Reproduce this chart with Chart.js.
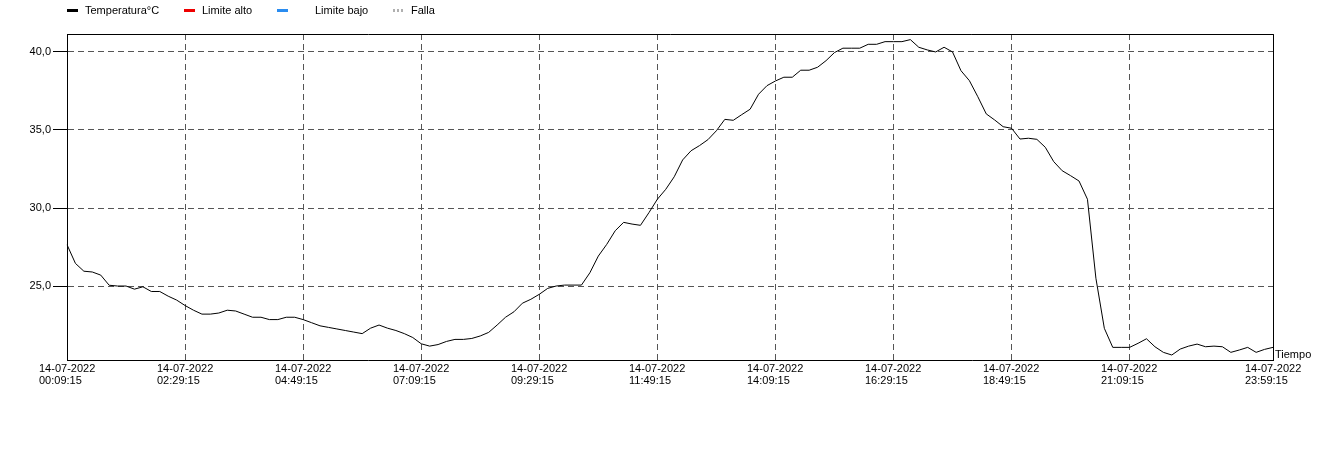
<!DOCTYPE html>
<html>
<head>
<meta charset="utf-8">
<script src="https://cdn.jsdelivr.net/npm/chart.js@4"></script>
<style>
html,body{margin:0;padding:0;background:#fff;}
canvas{display:block;}
</style>
</head>
<body>
<canvas id="c" width="1341" height="457"></canvas>
<script>
// ---- data ----
const fecha = '14-07-2022';
const startTime = '00:09:15';
const stepMinutes = 10;
const temperatura = [
  27.65, 26.45, 25.95, 25.90, 25.70, 25.05, 25.00, 25.00, 24.80, 24.95,
  24.65, 24.65, 24.35, 24.10, 23.75, 23.45, 23.20, 23.20, 23.27, 23.45,
  23.40, 23.20, 23.00, 23.00, 22.85, 22.85, 23.00, 23.00, 22.85, 22.65,
  22.45, 22.35, 22.25, 22.15, 22.05, 21.95, 22.30, 22.50, 22.30, 22.15,
  21.95, 21.70, 21.30, 21.15, 21.25, 21.45, 21.58, 21.58, 21.64, 21.80,
  22.03, 22.50, 23.00, 23.35, 23.90, 24.15, 24.47, 24.85, 25.00, 25.06,
  25.06, 25.06, 25.85, 26.92, 27.67, 28.54, 29.08, 28.97, 28.89, 29.70,
  30.56, 31.20, 32.00, 33.08, 33.67, 34.00, 34.38, 34.95, 35.68, 35.62,
  35.98, 36.33, 37.29, 37.84, 38.14, 38.38, 38.38, 38.83, 38.83, 39.02,
  39.44, 39.96, 40.24, 40.24, 40.24, 40.49, 40.49, 40.66, 40.66, 40.66,
  40.79, 40.30, 40.13, 40.00, 40.30, 40.00, 38.80, 38.16, 37.13, 36.03,
  35.64, 35.21, 35.11, 34.42, 34.47, 34.40, 33.89, 32.97, 32.39, 32.07,
  31.73, 30.56, 25.50, 22.29, 21.07, 21.07, 21.07, 21.33, 21.62, 21.11,
  20.75, 20.58, 20.96, 21.15, 21.28, 21.11, 21.15, 21.11, 20.75, 20.90,
  21.07, 20.75, 20.94, 21.07
];
const yTicks = [25, 30, 35, 40];
const xTickIndices = [0, 14, 28, 42, 56, 70, 84, 98, 112, 126, 143];
const seriesNames = ['Temperatura°C', 'Limite alto', 'Limite bajo', 'Falla'];
const limiteAlto = [];
const limiteBajo = [];
const falla = [];
const yMin = 20.26, yMax = 41.15;

// time categories (regular sampling every 10 minutes)
function pad(n){return String(n).padStart(2,'0');}
const [h0,m0,s0] = startTime.split(':').map(Number);
const tiempos = temperatura.map((_, i) => {
  const t = h0*60 + m0 + i*stepMinutes;
  return pad(Math.floor(t/60)) + ':' + pad(t%60) + ':' + pad(s0);
});

const FONT = '11px Arial, "Liberation Sans", sans-serif';

const framePlugin = {
  id: 'frame',
  afterDraw(chart) {
    const {ctx, chartArea: a} = chart;
    ctx.save();
    // top and right frame lines
    ctx.strokeStyle = '#000';
    ctx.lineWidth = 1;
    ctx.beginPath();
    const L = Math.round(a.left), T = Math.round(a.top) + 0.5, R = Math.round(a.right) + 0.5, B = Math.round(a.bottom);
    ctx.moveTo(L, T); ctx.lineTo(R, T); ctx.lineTo(R, B);
    ctx.stroke();
    // x tick labels (two lines, left aligned, block centred on tick)
    const xs = chart.scales.x;
    ctx.font = FONT;
    ctx.fillStyle = '#000';
    ctx.textAlign = 'left';
    ctx.textBaseline = 'alphabetic';
    xTickIndices.forEach(i => {
      const x = xs.getPixelForValue(i);
      const w = ctx.measureText(fecha).width;
      const lx = Math.round(x - w / 2);
      ctx.fillText(fecha, lx, a.bottom + 12);
      ctx.fillText(tiempos[i], lx, a.bottom + 24);
    });
    // axis title
    ctx.fillText('Tiempo', a.right + 2, a.bottom - 2);
    // legend
    const boxX = [67, 184, 277, 393];
    const textX = [85, 202, 315, 411];
    const colors = ['#000000', '#ee0000', '#2a8cf0', '#b0b0b0'];
    seriesNames.forEach((name, k) => {
      ctx.fillStyle = colors[k];
      if (k === 3) {
        for (let j = 0; j < 3; j++) ctx.fillRect(boxX[k] + j * 4, 9, 2, 3);
      } else {
        ctx.fillRect(boxX[k], 9, 11, 3);
      }
      ctx.fillStyle = '#000';
      ctx.fillText(name, textX[k], 14);
    });
    ctx.restore();
  }
};

new Chart(document.getElementById('c'), {
  type: 'line',
  data: {
    labels: tiempos,
    datasets: [
      {label: seriesNames[0], data: temperatura, borderColor: '#000', borderWidth: 1,
       pointRadius: 0, tension: 0, fill: false},
      {label: seriesNames[1], data: limiteAlto, borderColor: '#ee0000', pointRadius: 0},
      {label: seriesNames[2], data: limiteBajo, borderColor: '#2a8cf0', pointRadius: 0},
      {label: seriesNames[3], data: falla, borderColor: '#b0b0b0', pointRadius: 0}
    ]
  },
  options: {
    responsive: false,
    animation: false,
    devicePixelRatio: 1,
    layout: {padding: {left: 0, right: 68, top: 34, bottom: 97}},
    plugins: {legend: {display: false}, tooltip: {enabled: false}},
    scales: {
      x: {
        type: 'category',
        offset: false,
        afterBuildTicks(scale) { scale.ticks = xTickIndices.map(v => ({value: v})); },
        afterFit(scale) { scale.height = 0; },
        ticks: {display: false, autoSkip: false},
        grid: {display: true, color: '#555', drawTicks: false, lineWidth: 1},
        border: {display: true, color: '#000', width: 1, dash: [6, 4]}
      },
      y: {
        type: 'linear',
        min: yMin,
        max: yMax,
        afterBuildTicks(scale) { scale.ticks = yTicks.map(v => ({value: v})); },
        afterFit(scale) { scale.width = 67; },
        ticks: {
          color: '#000',
          font: {family: 'Arial, "Liberation Sans", sans-serif', size: 11},
          padding: 2,
          callback: v => Number(v).toFixed(1).replace('.', ',')
        },
        grid: {color: '#555', drawTicks: true, tickLength: 14, tickColor: '#000', tickWidth: 1, tickBorderDash: []},
        border: {display: true, color: '#000', width: 1, dash: [6, 4]}
      }
    }
  },
  plugins: [framePlugin]
});
</script>
</body>
</html>
